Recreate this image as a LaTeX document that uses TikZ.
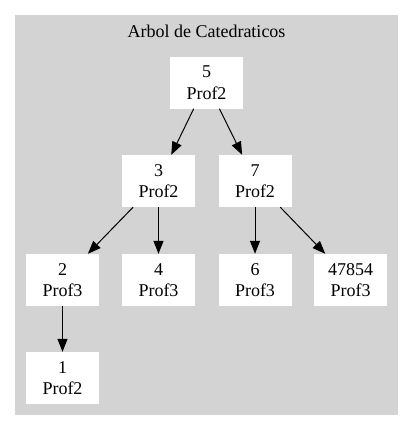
\documentclass[tikz,border=0pt]{standalone}
\usepackage{fontspec}
\setmainfont{Liberation Serif}
\usetikzlibrary{arrows.meta}
\definecolor{bggray}{RGB}{211,211,211}
\tikzset{
    cat/.style={fill=white, draw=none, minimum width=73pt, minimum height=52pt, inner sep=0pt, align=center, font=\fontsize{18}{21.5}\selectfont},
    edge/.style={line width=1pt, -{Triangle[length=13pt,width=10pt]}}
}
\newcommand{\cat}[4]{\node[cat] (#1) at ( #2 , #3 ) {#4};}
\begin{document}
\begin{tikzpicture}[x=1pt,y=1pt]
        \useasboundingbox (0,0) rectangle (413,-431);
        \fill[bggray] (15,-15) rectangle (398,-415);
        \node[font=\fontsize{18}{21.5}\selectfont] (title) at (206.5,-31) {Arbol de Catedraticos};
        % row1
        \cat{c5}{206.5}{-82.5}{5\\Prof2}
        % row2
        \cat{c3}{158.5}{-181}{3\\Prof2}
        \cat{c7}{255}{-181}{7\\Prof2}
        % row3
        \cat{c2}{62.5}{-280}{2\\Prof3}
        \cat{c4}{158.5}{-280}{4\\Prof3}
        \cat{c6}{255}{-280}{6\\Prof3}
        \cat{c47854}{350.5}{-280}{47854\\Prof3}
        % row4
        \cat{c1}{62.5}{-378}{1\\Prof2}
        % edges
        \draw[edge] (c5) -- (c3);
        \draw[edge] (c5) -- (c7);
        \draw[edge] (c3) -- (c2);
        \draw[edge] (c3) -- (c4);
        \draw[edge] (c7) -- (c6);
        \draw[edge] (c7) -- (c47854);
        \draw[edge] (c2) -- (c1);
\end{tikzpicture}
\end{document}
